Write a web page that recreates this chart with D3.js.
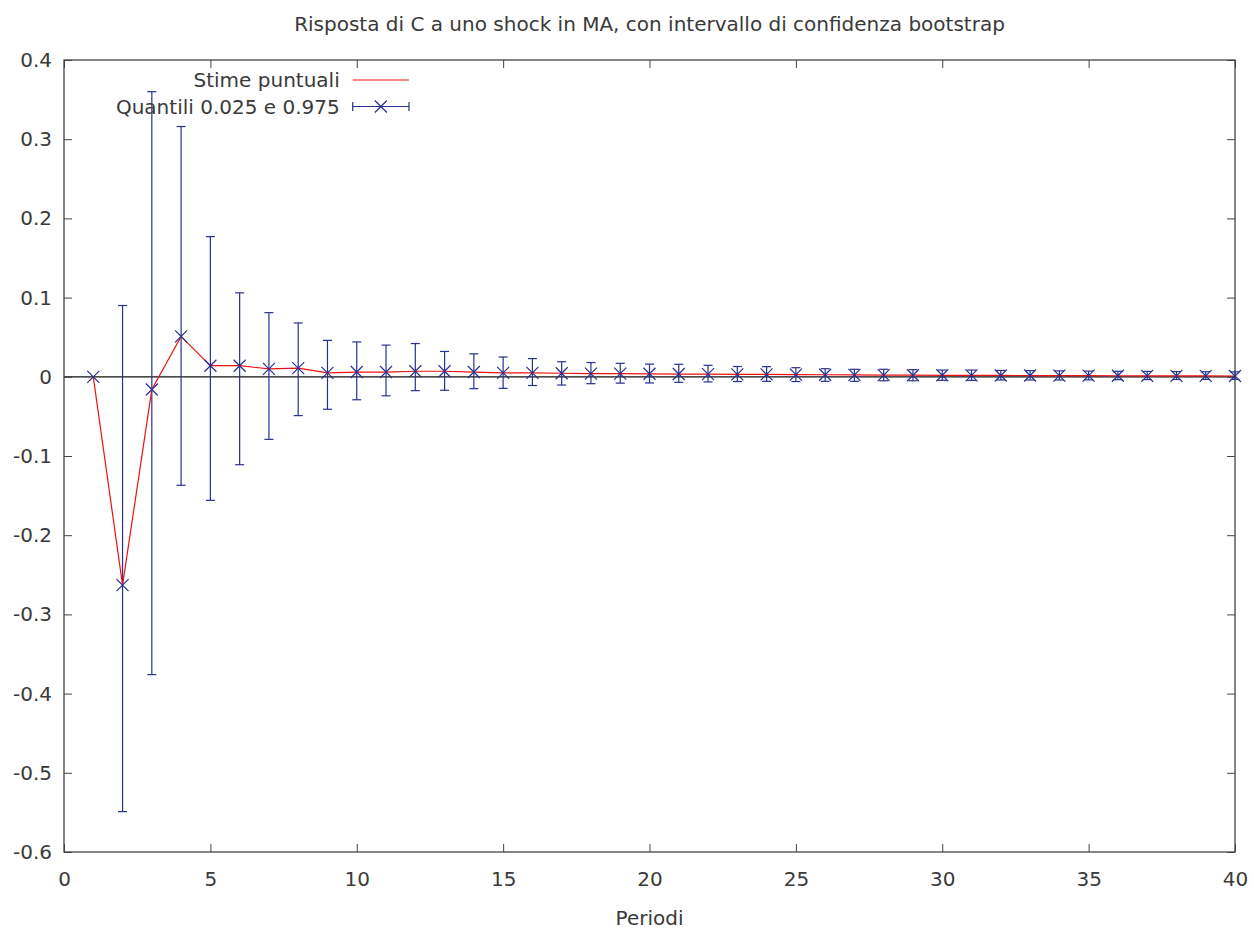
<!DOCTYPE html>
<html>
<head>
<meta charset="utf-8">
<script src="https://cdn.jsdelivr.net/npm/d3@7"></script>
<style>
  body { margin: 0; background: #fff; }
  text { font-family: "DejaVu Sans", sans-serif; fill: #3a3a3a; }
</style>
</head>
<body>
<div id="chart"></div>
<script>
// periodi e stime
const periodi = d3.range(1, 41);
const stime = [0, -0.263, -0.016, 0.051, 0.014, 0.014, 0.010, 0.011, 0.005, 0.006,
  0.006, 0.007, 0.007, 0.006, 0.005, 0.005, 0.0045, 0.004, 0.004, 0.0038,
  0.0035, 0.0033, 0.003, 0.003, 0.0028, 0.0026, 0.0024, 0.0022, 0.002, 0.0019,
  0.0018, 0.0017, 0.0016, 0.0015, 0.0014, 0.0013, 0.0012, 0.0012, 0.0011, 0.001];
const q975 = [0, 0.090, 0.360, 0.316, 0.177, 0.106, 0.081, 0.068, 0.046, 0.044,
  0.040, 0.042, 0.032, 0.029, 0.025, 0.023, 0.019, 0.018, 0.017, 0.016,
  0.0158, 0.0145, 0.013, 0.0128, 0.0115, 0.0102, 0.0095, 0.0095, 0.009, 0.0085,
  0.0085, 0.008, 0.0078, 0.0075, 0.0072, 0.007, 0.0068, 0.0066, 0.0064, 0.0062];
const q025 = [0, -0.549, -0.376, -0.137, -0.156, -0.111, -0.079, -0.049, -0.041, -0.029,
  -0.024, -0.0175, -0.017, -0.015, -0.0146, -0.011, -0.0104, -0.0087, -0.008, -0.0078,
  -0.007, -0.0065, -0.006, -0.0057, -0.006, -0.0057, -0.0057, -0.005, -0.005, -0.0045,
  -0.0045, -0.004, -0.004, -0.004, -0.0038, -0.0036, -0.0035, -0.0034, -0.0033, -0.0032];
const xTicks = [0, 5, 10, 15, 20, 25, 30, 35, 40];
const yTicks = [-0.6, -0.5, -0.4, -0.3, -0.2, -0.1, 0, 0.1, 0.2, 0.3, 0.4];

const data = periodi.map((p, i) => ({ p: p, v: stime[i], lo: q025[i], hi: q975[i] }));

const W = 1254, H = 929;
const margin = { top: 60, right: 19, bottom: 77, left: 64 };
const width = W - margin.left - margin.right,
      height = H - margin.top - margin.bottom;

const blu = "#27318f", rosso = "#ee1111", bordo = "#444";
const fs = "20px";

const svg = d3.select("#chart").append("svg")
  .attr("width", W)
  .attr("height", H);

const g = svg.append("g")
  .attr("transform", `translate(${margin.left}, ${margin.top})`);

const x = d3.scaleLinear().domain([0, 40]).range([0, width]);
const y = d3.scaleLinear().domain([-0.6, 0.4]).range([height, 0]);

// Asse dello zero
g.append("line")
  .attr("x1", 0).attr("x2", width)
  .attr("y1", y(0)).attr("y2", y(0))
  .attr("stroke", "#111").attr("stroke-width", 1.2);

// Tacche interne (anche speculari); trattino semplice come segno meno
const fmtY = d => d === 0 ? "0" : d3.format(".1f")(d).replace("\u2212", "-");
const tl = 8;
g.append("g")
  .attr("transform", `translate(0, ${height})`)
  .call(d3.axisBottom(x).tickValues(xTicks).tickSize(-tl).tickPadding(20).tickFormat(d3.format("d")))
  .call(a => a.select(".domain").remove());
g.append("g")
  .call(d3.axisTop(x).tickValues(xTicks).tickSize(-tl).tickFormat(""))
  .call(a => a.select(".domain").remove());
g.append("g")
  .call(d3.axisLeft(y).tickValues(yTicks).tickSize(-tl).tickPadding(12).tickFormat(fmtY))
  .call(a => a.select(".domain").remove());
g.append("g")
  .attr("transform", `translate(${width}, 0)`)
  .call(d3.axisRight(y).tickValues(yTicks).tickSize(-tl).tickFormat(""))
  .call(a => a.select(".domain").remove());

g.selectAll(".tick line").attr("stroke", bordo).attr("stroke-width", 1);
g.selectAll(".tick text").style("font-size", fs).attr("fill", "#3a3a3a")
  .style("font-family", "'DejaVu Sans', sans-serif");

// Bordo
g.append("rect")
  .attr("width", width).attr("height", height)
  .attr("fill", "none").attr("stroke", bordo).attr("stroke-width", 1.3);

// Barre di errore
const cap = 4.5, xs = 6;
const eb = g.append("g").attr("stroke", blu).attr("stroke-width", 1.2).attr("fill", "none");
const bars = data.filter(d => d.hi !== d.lo);
eb.selectAll(".v").data(bars).enter().append("line")
  .attr("x1", d => x(d.p)).attr("x2", d => x(d.p))
  .attr("y1", d => y(d.lo)).attr("y2", d => y(d.hi));
eb.selectAll(".ct").data(bars).enter().append("line")
  .attr("x1", d => x(d.p) - cap).attr("x2", d => x(d.p) + cap)
  .attr("y1", d => y(d.hi)).attr("y2", d => y(d.hi));
eb.selectAll(".cb").data(bars).enter().append("line")
  .attr("x1", d => x(d.p) - cap).attr("x2", d => x(d.p) + cap)
  .attr("y1", d => y(d.lo)).attr("y2", d => y(d.lo));

// Linea delle stime puntuali
g.append("path")
  .datum(data)
  .attr("fill", "none")
  .attr("stroke", rosso)
  .attr("stroke-width", 1.2)
  .attr("d", d3.line().x(d => x(d.p)).y(d => y(d.v)));

// Crocette
const croce = (cx, cy) => `M${cx - xs},${cy - xs}L${cx + xs},${cy + xs}M${cx - xs},${cy + xs}L${cx + xs},${cy - xs}`;
g.append("g").selectAll("path").data(data).enter().append("path")
  .attr("d", d => croce(x(d.p), y(d.v)))
  .attr("stroke", blu).attr("stroke-width", 1.2).attr("fill", "none");

// Legenda
const lx1 = 352.7 - margin.left, lx2 = 409 - margin.left, ly1 = 80 - margin.top, ly2 = 106.5 - margin.top;
const leg = g.append("g");
leg.append("text").attr("x", lx1 - 13).attr("y", ly1).attr("dy", "0.35em")
  .attr("text-anchor", "end").style("font-size", fs).text("Stime puntuali");
leg.append("line").attr("x1", lx1).attr("x2", lx2).attr("y1", ly1).attr("y2", ly1)
  .attr("stroke", rosso).attr("stroke-width", 1.2);
leg.append("text").attr("x", lx1 - 13).attr("y", ly2).attr("dy", "0.35em")
  .attr("text-anchor", "end").style("font-size", fs).text("Quantili 0.025 e 0.975");
const lg = leg.append("g").attr("stroke", blu).attr("stroke-width", 1.2).attr("fill", "none");
lg.append("line").attr("x1", lx1).attr("x2", lx2).attr("y1", ly2).attr("y2", ly2);
lg.append("line").attr("x1", lx1).attr("x2", lx1).attr("y1", ly2 - cap).attr("y2", ly2 + cap);
lg.append("line").attr("x1", lx2).attr("x2", lx2).attr("y1", ly2 - cap).attr("y2", ly2 + cap);
lg.append("path").attr("d", croce((lx1 + lx2) / 2, ly2));

// Titolo e etichetta
svg.append("text")
  .attr("x", margin.left + width / 2).attr("y", 31)
  .attr("text-anchor", "middle").style("font-size", fs)
  .text("Risposta di C a uno shock in MA, con intervallo di confidenza bootstrap");
svg.append("text")
  .attr("x", margin.left + width / 2).attr("y", 925)
  .attr("text-anchor", "middle").style("font-size", fs)
  .text("Periodi");
</script>
</body>
</html>
